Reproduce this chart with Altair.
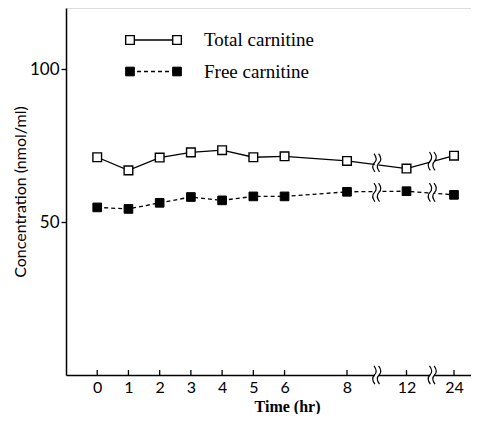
import altair as alt
import pandas as pd

hours = [0, 1, 2, 3, 4, 5, 6, 8, 12, 24]
total = [71.2, 66.9, 71.1, 72.8, 73.5, 71.2, 71.5, 70.0, 67.5, 71.7]
free = [54.8, 54.3, 56.3, 58.2, 57.1, 58.4, 58.4, 59.9, 60.1, 58.9]
series_names = ["Total carnitine", "Free carnitine"]

break_hours = [10, 18.5]
break_total = [69.4, 69.9]
break_free = [59.7, 59.7]
break_axis = [0, 0]

W, H = 405, 367

df = pd.DataFrame({
    "hour": hours * 2,
    "value": total + free,
    "series": [series_names[0]] * len(hours) + [series_names[1]] * len(hours),
})
tot = df[df.series == series_names[0]]
fre = df[df.series == series_names[1]]
brk = pd.DataFrame({
    "hour": break_hours * 3,
    "value": break_total + break_free + break_axis,
})
ticks = pd.DataFrame({"hour": hours})

xscale = alt.Scale(domain=[-1, 8, 12, 24, 28.3], range=[0, 281, 340.5, 388, 405],
                   nice=False, zero=False)
yscale = alt.Scale(domain=[0, 120], nice=False, zero=False)

X = alt.X("hour:Q", scale=xscale,
          axis=alt.Axis(values=hours, ticks=False, grid=False, labelPadding=4,
                        labelFont="Lato", labelFontSize=16, labelColor="black",
                        domainColor="black", domainWidth=1.5,
                        title="Time (hr)", titleFont="Liberation Serif", titleFontSize=16,
                        titleFontWeight="bold", titleColor="black",
                        titleX=221, titleY=36, titleBaseline="alphabetic"))
Y = alt.Y("value:Q", scale=yscale,
          axis=alt.Axis(values=[50, 100], grid=False, tickSize=5, tickColor="black",
                        tickWidth=1.3, labelPadding=2,
                        labelFont="Lato", labelFontSize=17, labelColor="black",
                        domainColor="black", domainWidth=1.5,
                        title="Concentration (nmol/ml)", titleFont="Lato",
                        titleFontSize=16, titleFontWeight="normal", titleColor="black",
                        titleX=-46, titleBaseline="middle"))

line_tot = alt.Chart(tot).mark_line(color="black", strokeWidth=1.3).encode(x=X, y=Y)
line_fre = alt.Chart(fre).mark_line(color="black", strokeWidth=1.3, strokeDash=[4, 3]).encode(x=X, y=Y)

mask_path = "M -0.22 -0.3 L 0.22 -0.3 L 0.22 0.3 L -0.22 0.3 Z"
curve_path = ("M -0.3 -1 C 0.0 -0.6 0.0 -0.25 -0.25 0 C -0.5 0.25 -0.5 0.6 -0.2 1 "
              "M 0.2 -1 C 0.5 -0.6 0.5 -0.25 0.25 0 C 0.0 0.25 0.0 0.6 0.3 1")
brk_mask = alt.Chart(brk).mark_point(shape=mask_path, filled=True, fill="white",
                                     strokeWidth=0, opacity=1, size=340).encode(
    x=alt.X("hour:Q", scale=xscale), y=alt.Y("value:Q", scale=yscale))
brk_curve = alt.Chart(brk).mark_point(shape=curve_path, filled=False, stroke="black",
                                      strokeWidth=1.2, opacity=1, size=340).encode(
    x=alt.X("hour:Q", scale=xscale), y=alt.Y("value:Q", scale=yscale))

tick_rules = alt.Chart(ticks).mark_rule(color="black", strokeWidth=1.3).encode(
    x=alt.X("hour:Q", scale=xscale), y=alt.value(H), y2=alt.value(H - 5))

pts_tot = alt.Chart(tot).mark_point(shape="square", filled=True, fill="white",
                                    stroke="black", strokeWidth=1.4, size=75, opacity=1).encode(x=X, y=Y)
pts_fre = alt.Chart(fre).mark_point(shape="square", filled=True, fill="black",
                                    stroke="black", strokeWidth=1, size=75, opacity=1).encode(x=X, y=Y)

# legend
leg = pd.DataFrame({"name": series_names, "i": [0, 1]})
leg_y = {0: 32, 1: 63.5}
legend_layers = []
for i, name in enumerate(series_names):
    sub = leg[leg.i == i]
    ln = alt.Chart(sub).mark_rule(color="black", strokeWidth=1.3,
                                  strokeDash=[1, 0] if i == 0 else [4, 3]).encode(
        x=alt.value(64), x2=alt.value(111), y=alt.value(leg_y[i]))
    pts = []
    for px in (64, 111):
        pts.append(alt.Chart(sub).mark_point(shape="square", filled=True,
                                             fill="white" if i == 0 else "black",
                                             stroke="black", strokeWidth=1.4 if i == 0 else 1,
                                             size=75, opacity=1).encode(
            x=alt.value(px), y=alt.value(leg_y[i])))
    txt = alt.Chart(sub).mark_text(align="left", baseline="middle", font="Liberation Serif",
                                   fontSize=19, color="black").encode(
        x=alt.value(138), y=alt.value(leg_y[i]), text="name:N")
    legend_layers += [ln] + pts + [txt]

chart = alt.layer(
    line_tot, line_fre, brk_mask, brk_curve, tick_rules, pts_tot, pts_fre, *legend_layers
).properties(
    width=W, height=H,
    autosize=alt.AutoSizeParams(type="none"),
    padding={"left": 58, "top": 0, "right": 0, "bottom": 39},
).configure_view(strokeWidth=0, strokeOpacity=0).configure(background="white")

chart.save("out.html", embed_options={"renderer": "svg", "actions": False})
